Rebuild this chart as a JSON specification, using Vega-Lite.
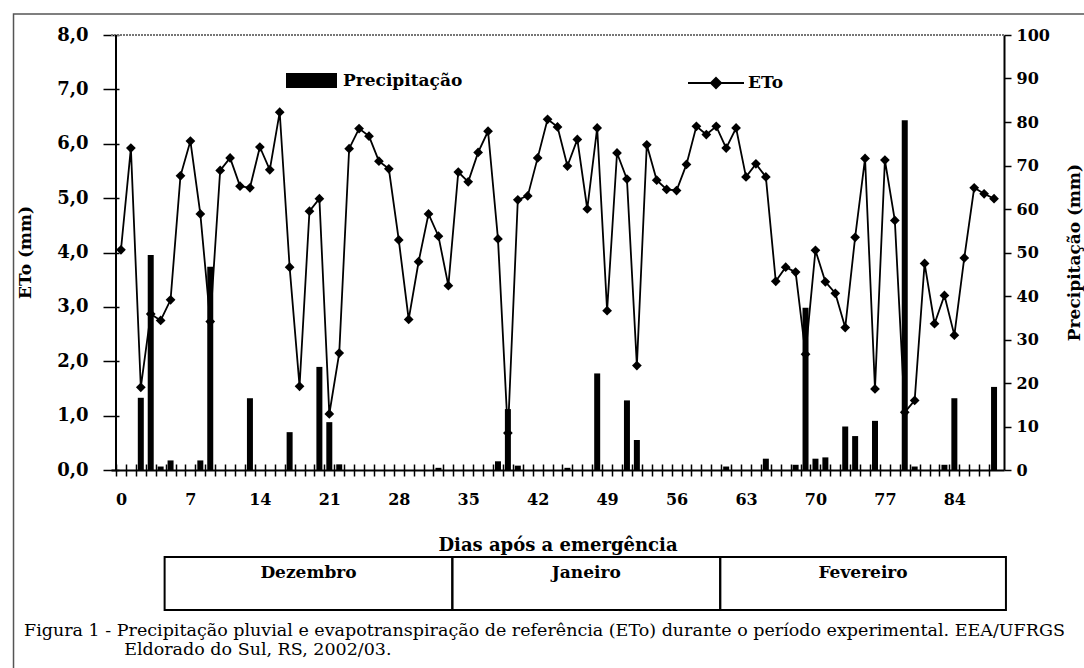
{
  "$schema": "https://vega.github.io/schema/vega-lite/v6.json",
  "width": 893,
  "height": 435,
  "autosize": {"type": "none"},
  "padding": {"left": 111, "top": 35, "right": 80, "bottom": 198},
  "background": "white",
  "config": {
    "view": {"stroke": null},
    "axis": {"labelColor": "black", "titleColor": "black", "labelFont": "DejaVu Serif", "titleFont": "DejaVu Serif", "labelFontWeight": "bold", "titleFontWeight": "bold", "grid": false, "domainColor": "black", "tickColor": "black", "domainWidth": 2, "tickWidth": 1.5},
    "legend": {"labelColor": "black", "labelFont": "DejaVu Serif", "labelFontWeight": "bold", "labelFontSize": 17, "padding": 0}
  },
  "title": {
    "text": ["Figura 1 - Precipitação pluvial e evapotranspiração de referência (ETo) durante o período experimental. EEA/UFRGS", "\u200b\u00a0\u00a0\u00a0\u00a0\u00a0\u00a0\u00a0\u00a0\u00a0\u00a0\u00a0\u00a0\u00a0\u00a0\u00a0\u00a0\u00a0\u00a0Eldorado do Sul, RS, 2002/03."],
    "orient": "bottom",
    "anchor": "start",
    "frame": "group",
    "dx": -87,
    "offset": -66,
    "font": "DejaVu Serif",
    "fontSize": 17.5,
    "fontWeight": "normal",
    "lineHeight": 19,
    "color": "black"
  },
  "data": {"values": [
    {"dia":0,"eto":4.05,"prec":0},{"dia":1,"eto":5.92,"prec":0},{"dia":2,"eto":1.52,"prec":16.6},{"dia":3,"eto":2.87,"prec":49.4},{"dia":4,"eto":2.75,"prec":0.8},
    {"dia":5,"eto":3.13,"prec":2.2},{"dia":6,"eto":5.41,"prec":0},{"dia":7,"eto":6.05,"prec":0},{"dia":8,"eto":4.71,"prec":2.2},{"dia":9,"eto":2.73,"prec":46.7},
    {"dia":10,"eto":5.51,"prec":0},{"dia":11,"eto":5.74,"prec":0},{"dia":12,"eto":5.22,"prec":0},{"dia":13,"eto":5.19,"prec":16.5},{"dia":14,"eto":5.94,"prec":0},
    {"dia":15,"eto":5.52,"prec":0},{"dia":16,"eto":6.58,"prec":0},{"dia":17,"eto":3.73,"prec":8.7},{"dia":18,"eto":1.54,"prec":0},{"dia":19,"eto":4.76,"prec":0},
    {"dia":20,"eto":4.99,"prec":23.7},{"dia":21,"eto":1.03,"prec":11.0},{"dia":22,"eto":2.15,"prec":1.3},{"dia":23,"eto":5.91,"prec":0},{"dia":24,"eto":6.28,"prec":0},
    {"dia":25,"eto":6.14,"prec":0},{"dia":26,"eto":5.68,"prec":0},{"dia":27,"eto":5.54,"prec":0},{"dia":28,"eto":4.23,"prec":0},{"dia":29,"eto":2.77,"prec":0},
    {"dia":30,"eto":3.83,"prec":0},{"dia":31,"eto":4.71,"prec":0},{"dia":32,"eto":4.30,"prec":0.5},{"dia":33,"eto":3.39,"prec":0},{"dia":34,"eto":5.48,"prec":0},
    {"dia":35,"eto":5.30,"prec":0},{"dia":36,"eto":5.84,"prec":0},{"dia":37,"eto":6.23,"prec":0},{"dia":38,"eto":4.25,"prec":2.0},{"dia":39,"eto":0.68,"prec":14.0},
    {"dia":40,"eto":4.97,"prec":1.0},{"dia":41,"eto":5.04,"prec":0},{"dia":42,"eto":5.74,"prec":0},{"dia":43,"eto":6.45,"prec":0},{"dia":44,"eto":6.31,"prec":0},
    {"dia":45,"eto":5.59,"prec":0.5},{"dia":46,"eto":6.08,"prec":0},{"dia":47,"eto":4.80,"prec":0},{"dia":48,"eto":6.29,"prec":22.2},{"dia":49,"eto":2.93,"prec":0},
    {"dia":50,"eto":5.83,"prec":0},{"dia":51,"eto":5.35,"prec":16.0},{"dia":52,"eto":1.92,"prec":6.9},{"dia":53,"eto":5.98,"prec":0},{"dia":54,"eto":5.33,"prec":0},
    {"dia":55,"eto":5.16,"prec":0},{"dia":56,"eto":5.14,"prec":0},{"dia":57,"eto":5.62,"prec":0},{"dia":58,"eto":6.32,"prec":0},{"dia":59,"eto":6.17,"prec":0},
    {"dia":60,"eto":6.32,"prec":0},{"dia":61,"eto":5.92,"prec":0.8},{"dia":62,"eto":6.29,"prec":0},{"dia":63,"eto":5.39,"prec":0},{"dia":64,"eto":5.63,"prec":0},
    {"dia":65,"eto":5.39,"prec":2.6},{"dia":66,"eto":3.47,"prec":0},{"dia":67,"eto":3.73,"prec":0},{"dia":68,"eto":3.64,"prec":1.2},{"dia":69,"eto":2.13,"prec":37.3},
    {"dia":70,"eto":4.04,"prec":2.6},{"dia":71,"eto":3.46,"prec":2.9},{"dia":72,"eto":3.25,"prec":0},{"dia":73,"eto":2.62,"prec":10.0},{"dia":74,"eto":4.28,"prec":7.8},
    {"dia":75,"eto":5.73,"prec":0},{"dia":76,"eto":1.49,"prec":11.3},{"dia":77,"eto":5.70,"prec":0},{"dia":78,"eto":4.59,"prec":0},{"dia":79,"eto":1.06,"prec":80.4},
    {"dia":80,"eto":1.28,"prec":0.8},{"dia":81,"eto":3.80,"prec":0},{"dia":82,"eto":2.69,"prec":0},{"dia":83,"eto":3.21,"prec":1.2},{"dia":84,"eto":2.48,"prec":16.5},
    {"dia":85,"eto":3.90,"prec":0},{"dia":86,"eto":5.19,"prec":0},{"dia":87,"eto":5.08,"prec":0},{"dia":88,"eto":4.99,"prec":19.1}
  ]},
  "layer": [
    {
      "data": {"values": [{"quadro": "figura"}]},
      "mark": {"type": "rect", "fill": null, "stroke": "#555555", "strokeWidth": 1.5},
      "encoding": {
        "x": {"datum": -10.83, "type": "quantitative", "scale": {"domain": [-0.5, 88.5], "nice": false, "zero": false}, "axis": null},
        "x2": {"datum": 97.5},
        "y": {"datum": 8.386, "type": "quantitative", "scale": {"domain": [0, 8], "nice": false}, "axis": null},
        "y2": {"datum": -4.0}
      }
    },
    {
      "data": {"values": [{"mes": "Dezembro", "inicio": 4.4, "fim": 33.4}, {"mes": "Janeiro", "inicio": 33.4, "fim": 60.4}, {"mes": "Fevereiro", "inicio": 60.4, "fim": 89.2}]},
      "mark": {"type": "rect", "fill": null, "stroke": "black", "strokeWidth": 2},
      "encoding": {
        "x": {"field": "inicio", "type": "quantitative", "scale": {"domain": [-0.5, 88.5], "nice": false, "zero": false}, "axis": null},
        "x2": {"field": "fim"},
        "y": {"datum": -1.6, "type": "quantitative", "scale": {"domain": [0, 8], "nice": false}, "axis": null},
        "y2": {"datum": -2.575}
      }
    },
    {
      "data": {"values": [{"mes": "Dezembro", "inicio": 4.4, "fim": 33.4}, {"mes": "Janeiro", "inicio": 33.4, "fim": 60.4}, {"mes": "Fevereiro", "inicio": 60.4, "fim": 89.2}]},
      "transform": [{"calculate": "(datum.inicio + datum.fim) / 2", "as": "meio"}],
      "mark": {"type": "text", "font": "DejaVu Serif", "fontWeight": "bold", "fontSize": 17, "color": "black", "baseline": "middle", "align": "center"},
      "encoding": {
        "x": {"field": "meio", "type": "quantitative", "scale": {"domain": [-0.5, 88.5], "nice": false, "zero": false}, "axis": null},
        "y": {"datum": -1.894, "type": "quantitative", "scale": {"domain": [0, 8], "nice": false}, "axis": null},
        "text": {"field": "mes"}
      }
    },
    {
      "mark": {"type": "rule", "stroke": "#777777", "strokeWidth": 1, "strokeDash": [2, 1]},
      "encoding": {
        "y": {"datum": 8, "type": "quantitative", "scale": {"domain": [0, 8], "nice": false}, "axis": null}
      }
    },
    {
      "mark": {"type": "bar", "size": 6, "orient": "vertical"},
      "encoding": {
        "x": {"field": "dia", "type": "quantitative", "scale": {"domain": [-0.5, 88.5], "nice": false, "zero": false},
          "axis": {"orient": "bottom", "values": [0, 7, 14, 21, 28, 35, 42, 49, 56, 63, 70, 77, 84], "ticks": false, "tickSize": 0, "labelPadding": 21, "labelFontSize": 16, "labelBaseline": "top",
            "title": "Dias após a emergência", "titleFontSize": 18, "titleY": 80, "titleBaseline": "alphabetic"}},
        "y": {"field": "prec", "type": "quantitative", "stack": null, "scale": {"domain": [0, 100], "nice": false},
          "axis": {"orient": "right", "values": [0, 10, 20, 30, 40, 50, 60, 70, 80, 90, 100], "tickSize": 7, "labelPadding": 5, "labelFontSize": 16,
            "title": "Precipitação (mm)", "titleFontSize": 17, "titleX": 70, "titleY": 217, "titleAngle": -90, "titleAlign": "center", "titleBaseline": "middle"}},
        "fill": {"datum": "Precipitação", "type": "nominal", "scale": {"range": ["black"]},
          "legend": {"orient": "none", "legendX": 175, "legendY": 20, "title": null, "symbolType": "M-1,-0.294L1,-0.294L1,0.294L-1,0.294Z", "symbolSize": 2601, "symbolStrokeWidth": 0, "labelOffset": 6}}
      }
    },
    {
      "mark": {"type": "line", "strokeWidth": 1.8},
      "encoding": {
        "x": {"field": "dia", "type": "quantitative", "scale": {"domain": [-0.5, 88.5], "nice": false, "zero": false}, "axis": null},
        "y": {"field": "eto", "type": "quantitative", "scale": {"domain": [0, 8], "nice": false},
          "axis": {"orient": "left", "values": [0, 1, 2, 3, 4, 5, 6, 7, 8], "format": ".1f", "labelExpr": "replace(datum.label, '.', ',')", "offset": -8, "tickSize": 16, "domain": false, "labelPadding": 15, "labelFontSize": 18,
            "title": "ETo (mm)", "titleFontSize": 17, "titleX": -94, "titleY": 217, "titleAngle": -90, "titleAlign": "center", "titleBaseline": "middle"}},
        "stroke": {"datum": "ETo", "type": "nominal", "scale": {"range": ["black"]},
          "legend": {"orient": "none", "legendX": 576, "legendY": 19, "title": null, "symbolType": "M-1,0L1,0M0,-0.18L0.18,0L0,0.18L-0.18,0Z", "symbolSize": 3136, "symbolStrokeWidth": 2, "symbolFillColor": "black", "labelOffset": 3,
            "encode": {"symbols": {"update": {"fill": {"value": "black"}, "stroke": {"value": "black"}}}}}}
      }
    },
    {
      "mark": {"type": "point", "shape": "diamond", "filled": true, "size": 95, "color": "black", "opacity": 1},
      "encoding": {
        "x": {"field": "dia", "type": "quantitative", "scale": {"domain": [-0.5, 88.5], "nice": false, "zero": false},
          "axis": {"orient": "bottom", "values": [-0.5, 0.5, 1.5, 2.5, 3.5, 4.5, 5.5, 6.5, 7.5, 8.5, 9.5, 10.5, 11.5, 12.5, 13.5, 14.5, 15.5, 16.5, 17.5, 18.5, 19.5, 20.5, 21.5, 22.5, 23.5, 24.5, 25.5, 26.5, 27.5, 28.5, 29.5, 30.5, 31.5, 32.5, 33.5, 34.5, 35.5, 36.5, 37.5, 38.5, 39.5, 40.5, 41.5, 42.5, 43.5, 44.5, 45.5, 46.5, 47.5, 48.5, 49.5, 50.5, 51.5, 52.5, 53.5, 54.5, 55.5, 56.5, 57.5, 58.5, 59.5, 60.5, 61.5, 62.5, 63.5, 64.5, 65.5, 66.5, 67.5, 68.5, 69.5, 70.5, 71.5, 72.5, 73.5, 74.5, 75.5, 76.5, 77.5, 78.5, 79.5, 80.5, 81.5, 82.5, 83.5, 84.5, 85.5, 86.5, 87.5],
            "labels": false, "domain": false, "offset": -6, "tickSize": 12, "title": null}},
        "y": {"field": "eto", "type": "quantitative", "scale": {"domain": [0, 8], "nice": false}, "axis": null}
      }
    },
    {
      "mark": {"type": "rule", "stroke": "black", "strokeWidth": 2},
      "encoding": {
        "x": {"datum": -0.5, "type": "quantitative", "scale": {"domain": [-0.5, 88.5], "nice": false, "zero": false}, "axis": null}
      }
    }
  ],
  "resolve": {"scale": {"y": "independent"}, "axis": {"x": "independent", "y": "independent"}}
}
